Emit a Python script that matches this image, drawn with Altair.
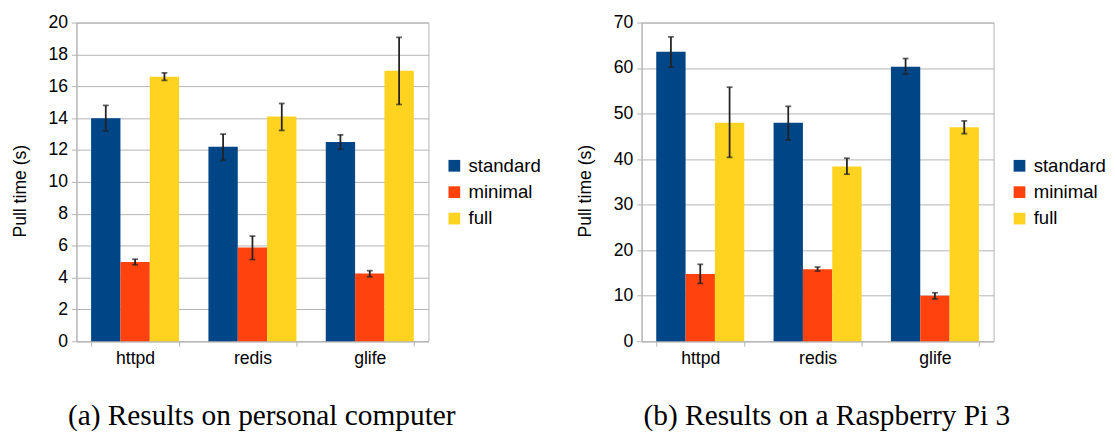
import altair as alt
import pandas as pd

apps = ["httpd", "redis", "glife"]
variants = ["standard", "minimal", "full"]
colors = ["#004586", "#ff420e", "#ffd320"]

# (a) personal computer
pc_standard = [14.0, 12.2, 12.5]
pc_standard_lo = [13.2, 11.35, 12.05]
pc_standard_hi = [14.8, 13.0, 12.95]
pc_minimal = [4.97, 5.88, 4.25]
pc_minimal_lo = [4.8, 5.13, 4.05]
pc_minimal_hi = [5.15, 6.6, 4.43]
pc_full = [16.6, 14.1, 16.97]
pc_full_lo = [16.37, 13.23, 14.86]
pc_full_hi = [16.84, 14.92, 19.07]

# (b) Raspberry Pi 3
pi_standard = [63.6, 48.0, 60.3]
pi_standard_lo = [60.2, 44.2, 58.7]
pi_standard_hi = [66.85, 51.6, 62.1]
pi_minimal = [14.8, 15.8, 10.0]
pi_minimal_lo = [12.7, 15.4, 9.3]
pi_minimal_hi = [16.9, 16.3, 10.65]
pi_full = [48.0, 38.4, 47.0]
pi_full_lo = [40.4, 36.7, 45.6]
pi_full_hi = [55.8, 40.2, 48.4]

pc_ticks = [0, 2, 4, 6, 8, 10, 12, 14, 16, 18, 20]
pi_ticks = [0, 10, 20, 30, 40, 50, 60, 70]

captions = ["(a) Results on personal computer", "(b) Results on a Raspberry Pi 3"]


def make_df(series):
    rows = []
    for v, (vals, lo, hi) in zip(variants, series):
        for a, val, l, h in zip(apps, vals, lo, hi):
            rows.append({"app": a, "variant": v, "value": val, "lo": l, "hi": h})
    return pd.DataFrame(rows)


pc_df = make_df([(pc_standard, pc_standard_lo, pc_standard_hi),
                 (pc_minimal, pc_minimal_lo, pc_minimal_hi),
                 (pc_full, pc_full_lo, pc_full_hi)])
pi_df = make_df([(pi_standard, pi_standard_lo, pi_standard_hi),
                 (pi_minimal, pi_minimal_lo, pi_minimal_hi),
                 (pi_full, pi_full_lo, pi_full_hi)])

SANS = "Liberation Sans"
GRID = "#b3b3b3"
ERR = "#222222"


def panel(df, ymax, ticks, caption):
    x = alt.X(
        "app:N", sort=apps,
        scale=alt.Scale(paddingInner=0.25, paddingOuter=0.125),
        axis=alt.Axis(
            title=caption, titleFont="Liberation Serif", titleFontSize=30,
            titleFontWeight="normal", titleColor="#000000",
            titleX=189, titleY=85, titleBaseline="alphabetic", titleAlign="center",
            labelFont=SANS, labelFontSize=18, labelColor="#000000", labelAngle=0,
            labelPadding=4, labelOverlap=False, tickBand="extent", tickSize=5,
            tickColor=GRID, domainColor=GRID, grid=False,
        ),
    )
    xo = alt.XOffset("variant:N", sort=variants,
                     scale=alt.Scale(paddingInner=0, paddingOuter=0))
    yscale = alt.Scale(domain=[0, ymax], nice=False)
    yaxis = alt.Axis(
        title="Pull time (s)", titleFont=SANS, titleFontSize=18,
        titleFontWeight="normal", titleColor="#000000",
        titleX=-48, titleY=172, titleAngle=-90, titleAlign="center", titleBaseline="bottom",
        labelFont=SANS, labelFontSize=18, labelColor="#000000", labelPadding=4,
        labelOverlap=False, values=ticks, tickCount=len(ticks), tickSize=5,
        tickColor=GRID, domainColor=GRID, gridColor=GRID, gridWidth=1,
    )
    base = alt.Chart(df).encode(x=x, xOffset=xo)
    bars = base.mark_bar().encode(
        y=alt.Y("value:Q", scale=yscale, axis=yaxis),
        color=alt.Color(
            "variant:N", sort=variants,
            scale=alt.Scale(domain=variants, range=colors),
            legend=alt.Legend(
                title=None, orient="none", legendX=377, legendY=137,
                symbolType="square", symbolSize=144, symbolStrokeWidth=0,
                labelFont=SANS, labelFontSize=19, labelColor="#000000",
                labelOffset=5, rowPadding=7,
            ),
        ),
    )
    rules = base.mark_rule(color=ERR, strokeWidth=1.8).encode(
        y=alt.Y("lo:Q", scale=yscale, axis=yaxis), y2="hi:Q")
    cap_lo = base.mark_tick(color=ERR, size=6, thickness=1.8).encode(
        y=alt.Y("lo:Q", scale=yscale, axis=yaxis))
    cap_hi = base.mark_tick(color=ERR, size=6, thickness=1.8).encode(
        y=alt.Y("hi:Q", scale=yscale, axis=yaxis))
    return alt.layer(bars, rules, cap_lo, cap_hi).properties(width=360, height=326)


left = panel(pc_df, 20, pc_ticks, captions[0])
right = panel(pi_df, 70, pi_ticks, captions[1])

chart = alt.hconcat(left, right, spacing=35).resolve_scale(
    y="independent", color="independent"
).configure_view(
    stroke=GRID, strokeWidth=1
).properties(
    padding={"left": 3, "top": 0, "right": 0, "bottom": 0},
    background="#ffffff",
)

chart.save("out.html", embed_options={"renderer": "svg", "actions": False})
